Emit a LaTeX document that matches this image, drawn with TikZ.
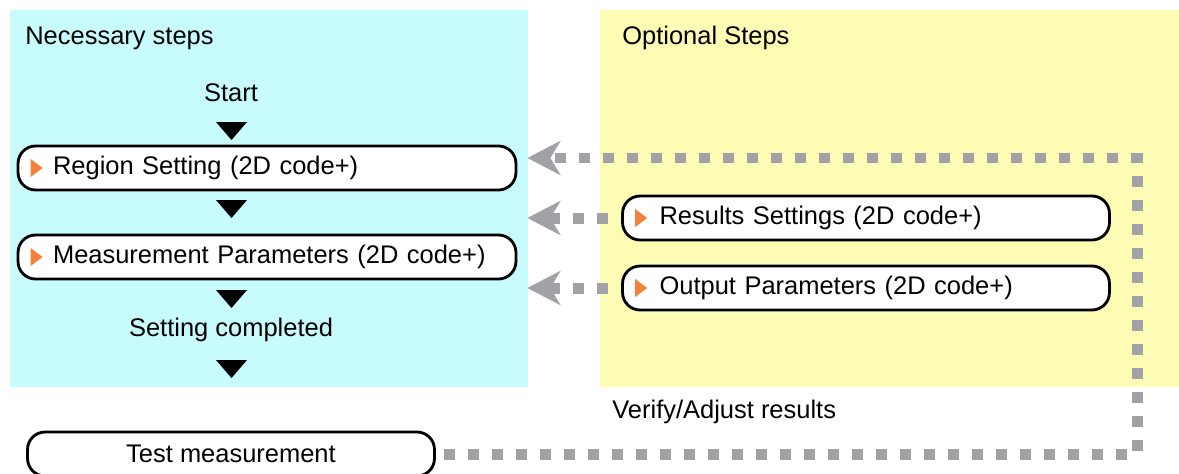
\documentclass[tikz,border=0pt]{standalone}
\usepackage{fontspec}
\setmainfont{Liberation Sans}
\usetikzlibrary{arrows.meta, positioning}
\definecolor{needblue}{HTML}{C8FCFC}
\definecolor{optyellow}{HTML}{FCFCB4}
\definecolor{dotgray}{HTML}{A2A2A6}
\definecolor{tiporange}{HTML}{F5803C}

\begin{document}
\begin{tikzpicture}[
    x=0.02cm, y=-0.02cm,
    font=\fontsize{14.5}{17}\selectfont,
    roundbox/.style = {rectangle, draw, line width=1.6pt, rounded corners=0.35cm, fill=white, minimum height=0.88cm},
    stepbox/.style = {roundbox, inner xsep=0.3cm, align=left, text width=9.36cm, execute at begin node=\hspace*{0.4cm}},
    optbox/.style = {roundbox, inner xsep=0.3cm, align=left, text width=9.14cm, execute at begin node=\hspace*{0.44cm}},
    testbox/.style = {roundbox, minimum width=8.14cm},
    title/.style = {anchor=west, inner xsep=0pt},
    dotline/.style = {draw=dotgray, line width=0.22cm, dash pattern=on 0.22cm off 0.26cm},
    >={Stealth[length=0.66cm, width=0.68cm, inset=0.2cm]}]

    \useasboundingbox (0,0) rectangle (1179,473);
    \fill[needblue] (10,10) rectangle (528,387);
    \fill[optyellow] (600,10) rectangle (1179,387);

    \node[title] (need) at (25,38) {Necessary steps};
    \node[title] (opt) at (622,38) {Optional Steps};
    \node (start) at (231,93) {Start};
    \node[stepbox] (region) at (267,168) {Region Setting (2D code+)};
    \node[stepbox] (meas) at (267,257) {Measurement Parameters (2D code+)};
    \node (done) at (231,330) {Setting completed};
    \node[optbox] (res) at (866,218) {Results Settings (2D code+)};
    \node[optbox] (outp) at (866,288) {Output Parameters (2D code+)};
    \node[testbox] (test) at (231,454) {Test measurement};
    \node[title] (verify) at (612,412) {Verify/Adjust results};
    \coordinate (turn) at (1137,158);

    % flow marks
    \foreach \ty in {122,200,290,360}
        \fill (216,\ty) -- (247,\ty) -- (231.5,\ty+18) -- cycle;
    \foreach \n in {region, meas, res, outp}
        \fill[tiporange] ([xshift=0.28cm, yshift=0.18cm]\n.west) -- ++(0.24cm,-0.18cm) -- ++(-0.24cm,-0.18cm) -- cycle;

    \draw[dotline, ->, shorten <=0.16cm, shorten >=0.2cm] (test.east) -| (turn) -- (turn -| region.east);
    \draw[dotline, ->, shorten <=0.26cm, shorten >=0.2cm] (res.west) -- (res.west -| region.east);
    \draw[dotline, ->, shorten <=0.26cm, shorten >=0.2cm] (outp.west) -- (outp.west -| meas.east);
\end{tikzpicture}
\end{document}
